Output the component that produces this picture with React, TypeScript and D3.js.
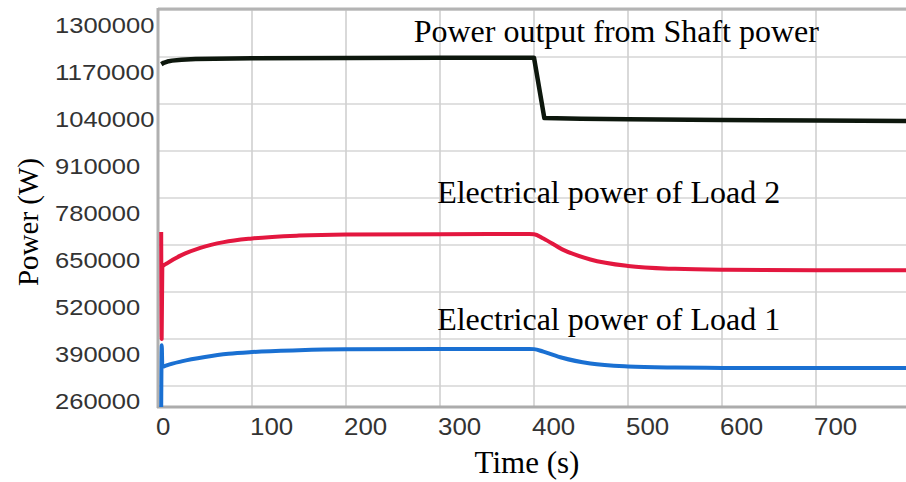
import React from "react";
import * as d3 from "d3";

const yTicks = [260000, 390000, 520000, 650000, 780000, 910000, 1040000, 1170000, 1300000];
const xTicks = [0, 100, 200, 300, 400, 500, 600, 700];

const shaftT = [3.5, 6, 10, 15, 25, 40, 60, 100, 200, 300, 400, 411, 450, 500, 600, 700, 800];
const shaftP = [1150000, 1154000, 1157500, 1160000, 1162500, 1164200, 1165500, 1166500, 1167500, 1168000, 1168000, 1001000, 999500, 998000, 996000, 994500, 993000];

const load2T = [3.4, 3.9, 4.6, 10, 25, 45, 70, 100, 150, 200, 300, 395, 400, 410, 430, 460, 500, 550, 600, 700, 800];
const load2P = [686000, 390000, 590000, 600000, 622000, 642000, 658000, 668000, 676000, 679000, 680000, 680500, 680000, 668000, 638000, 610000, 592000, 584000, 581500, 580500, 580500];

const load1T = [3.4, 4.0, 4.6, 10, 25, 50, 75, 100, 150, 200, 300, 395, 400, 410, 430, 460, 500, 550, 600, 700, 800];
const load1P = [200000, 373000, 313000, 318000, 328000, 340000, 349000, 354000, 359000, 361500, 362500, 362500, 362000, 355000, 338000, 322000, 314000, 311000, 310000, 309500, 309500];

const annotations = [
  { text: "Power output from Shaft power", t: 272, v: 1211500 },
  { text: "Electrical power of Load 2", t: 297, v: 766000 },
  { text: "Electrical power of Load 1", t: 297, v: 415000 },
];

const W = 906;
const H = 482;
const left = 158;
const top = 10;
const bottom = 407;
const right = 906;

export default function App() {
  const x = d3.scaleLinear().domain([0, 100]).range([158, 252]);
  const y = d3.scaleLinear().domain([260000, 1300000]).range([386, 10]);

  const mkLine = (curve: d3.CurveFactory) =>
    d3
      .line<[number, number]>()
      .x((d) => x(d[0]))
      .y((d) => y(d[1]))
      .curve(curve);

  const zip = (a: number[], b: number[]) => a.map((t, i) => [t, b[i]] as [number, number]);

  const series = [
    { d: zip(shaftT, shaftP), color: "#0d170d", w: 4.5, curve: d3.curveLinear },
    { d: zip(load2T, load2P), color: "#e3173f", w: 4, curve: d3.curveMonotoneX },
    { d: zip(load1T, load1P), color: "#1a70d2", w: 4, curve: d3.curveMonotoneX },
  ];

  return (
    <svg
      width={W}
      height={H}
      style={{ position: "absolute", left: 0, top: 0, background: "#fff" }}
    >
      <defs>
        <clipPath id="plotClip">
          <rect x={left} y={top} width={right - left} height={bottom - top} />
        </clipPath>
      </defs>
      <rect x={0} y={0} width={W} height={H} fill="#fff" />
      {yTicks.map((v) => (
        <line key={"gy" + v} x1={left} x2={right} y1={y(v)} y2={y(v)} stroke="#d6d6d6" strokeWidth={1.6} />
      ))}
      {xTicks.map((t) => (
        <line key={"gx" + t} x1={x(t)} x2={x(t)} y1={top} y2={bottom} stroke="#d0d0d0" strokeWidth={1.6} />
      ))}
      <line x1={left} x2={right} y1={top - 1} y2={top - 1} stroke="#b4b4b4" strokeWidth={3} />
      <line x1={left} x2={left} y1={top - 2} y2={bottom + 1} stroke="#b0b0b0" strokeWidth={3} />
      <line x1={left - 1} x2={right} y1={bottom} y2={bottom} stroke="#acacac" strokeWidth={3} />
      <g clipPath="url(#plotClip)">
        {series.map((s, i) => (
          <path key={i} d={mkLine(s.curve)(s.d) || ""} fill="none" stroke={s.color} strokeWidth={s.w} strokeLinejoin="round" />
        ))}
      </g>
      {yTicks.map((v) => {
        const s = String(v);
        return (
          <text
            key={"ly" + v}
            x={55}
            y={y(v) + 23}
            fontFamily="Liberation Sans, Arial, sans-serif"
            fontSize={22}
            fill="#333"
            textLength={s.length * 14.2}
            lengthAdjust="spacingAndGlyphs"
          >
            {s}
          </text>
        );
      })}
      {xTicks.map((t) => {
        const s = String(t);
        return (
          <text
            key={"lx" + t}
            x={x(t) - 2}
            y={435}
            fontFamily="Liberation Sans, Arial, sans-serif"
            fontSize={24}
            fill="#333"
            textLength={s.length * 14.4}
            lengthAdjust="spacingAndGlyphs"
          >
            {s}
          </text>
        );
      })}
      {annotations.map((a) => (
        <text
          key={a.text}
          x={x(a.t)}
          y={y(a.v)}
          fontFamily="Liberation Serif, Times New Roman, serif"
          fontSize={32}
          fill="#000"
        >
          {a.text}
        </text>
      ))}
      <text
        transform={`translate(38, 222) rotate(-90)`}
        textAnchor="middle"
        fontFamily="Liberation Serif, Times New Roman, serif"
        fontSize={29}
        fill="#000"
      >
        Power (W)
      </text>
      <text
        x={527}
        y={473}
        textAnchor="middle"
        fontFamily="Liberation Serif, Times New Roman, serif"
        fontSize={31}
        fill="#000"
      >
        Time (s)
      </text>
    </svg>
  );
}
